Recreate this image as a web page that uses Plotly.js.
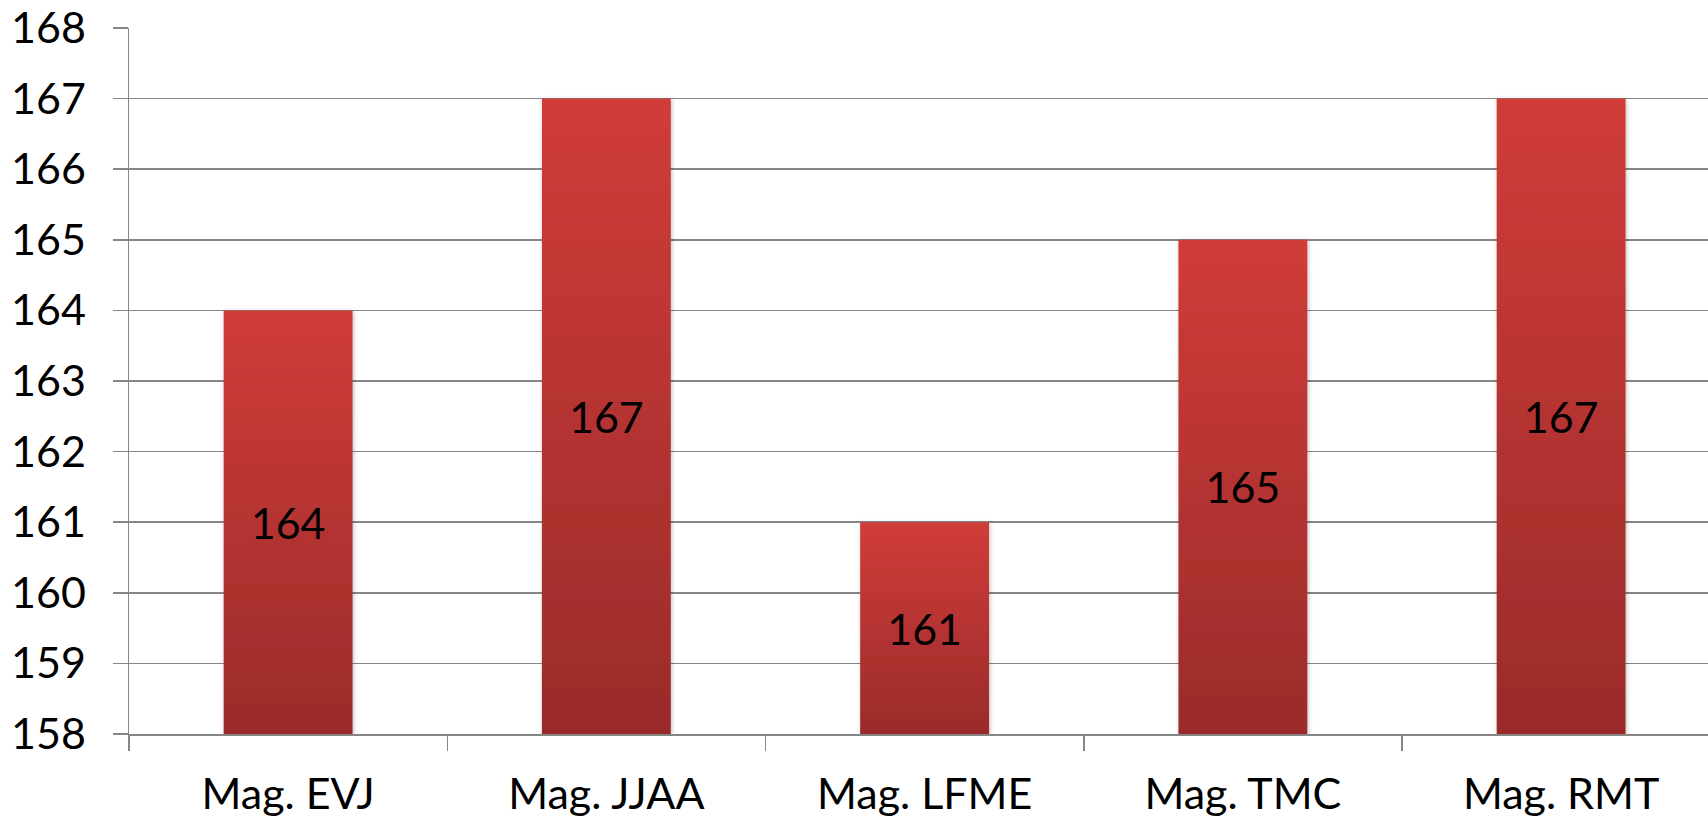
<!DOCTYPE html>
<html>
<head>
<meta charset="utf-8">
<script src="https://cdn.plot.ly/plotly-3.0.1.min.js"></script>
<style>
html,body{margin:0;padding:0;background:#fff;}
#chart{width:1708px;height:819px;}
</style>
</head>
<body>
<div id="chart"></div>
<script>
const categories = ["Mag. EVJ", "Mag. JJAA", "Mag. LFME", "Mag. TMC", "Mag. RMT"];
const values = [164, 167, 161, 165, 167];
const axisBase = 158;
const yTicks = [158, 159, 160, 161, 162, 163, 164, 165, 166, 167, 168];

const trace = {
  type: "bar",
  x: categories,
  y: values.map(function (v) { return v - axisBase; }),
  base: axisBase,
  text: values.map(String),
  textposition: "inside",
  insidetextanchor: "middle",
  textangle: 0,
  constraintext: "none",
  textfont: {family: "Lato, sans-serif", size: 43, color: "#000"},
  insidetextfont: {family: "Lato, sans-serif", size: 43, color: "#000"},
  marker: {color: "#B93332", line: {width: 0}},
  hoverinfo: "none"
};

const layout = {
  width: 1708, height: 819,
  margin: {l: 129, r: 0, t: 28, b: 85},
  paper_bgcolor: "#fff", plot_bgcolor: "#fff",
  showlegend: false,
  bargap: 0.595,
  uniformtext: {mode: false},
  font: {family: "Lato, sans-serif", size: 43, color: "#000"},
  xaxis: {
    type: "category",
    range: [-0.5, 4.4615],
    tickson: "boundaries",
    ticks: "outside", ticklen: 15, tickwidth: 1.5, tickcolor: "#868686",
    showline: true, linecolor: "#868686", linewidth: 1.5,
    showgrid: false, zeroline: false,
    ticklabelstandoff: 22,
    tickfont: {family: "Lato, sans-serif", size: 43, color: "#000"}
  },
  yaxis: {
    range: [158, 168],
    tickvals: yTicks,
    ticktext: yTicks.map(String),
    ticks: "outside", ticklen: 15, tickwidth: 1.5, tickcolor: "#868686",
    showline: true, linecolor: "#868686", linewidth: 1.5,
    showgrid: true, gridcolor: "#868686", gridwidth: 1.5,
    zeroline: false,
    ticklabelstandoff: 18,
    tickfont: {family: "Lato, sans-serif", size: 43, color: "#000"}
  }
};

Plotly.newPlot("chart", [trace], layout, {staticPlot: true, displayModeBar: false}).then(function (gd) {
  const svg = gd.querySelector("svg.main-svg");
  const ns = "http://www.w3.org/2000/svg";
  let defs = svg.querySelector("defs");
  if (!defs) { defs = document.createElementNS(ns, "defs"); svg.insertBefore(defs, svg.firstChild); }
  const grad = document.createElementNS(ns, "linearGradient");
  grad.setAttribute("id", "barGrad");
  grad.setAttribute("x1", "0"); grad.setAttribute("y1", "0");
  grad.setAttribute("x2", "0"); grad.setAttribute("y2", "1");
  [["0%", "#D03C39"], ["100%", "#9A2B2A"]].forEach(function (s) {
    const st = document.createElementNS(ns, "stop");
    st.setAttribute("offset", s[0]); st.setAttribute("stop-color", s[1]);
    grad.appendChild(st);
  });
  defs.appendChild(grad);
  const filt = document.createElementNS(ns, "filter");
  filt.setAttribute("id", "barShadow");
  filt.setAttribute("x", "-10%"); filt.setAttribute("y", "-10%");
  filt.setAttribute("width", "120%"); filt.setAttribute("height", "120%");
  const ds = document.createElementNS(ns, "feDropShadow");
  ds.setAttribute("dx", "1"); ds.setAttribute("dy", "1");
  ds.setAttribute("stdDeviation", "2"); ds.setAttribute("flood-color", "#000");
  ds.setAttribute("flood-opacity", "0.25");
  filt.appendChild(ds);
  defs.appendChild(filt);
  gd.querySelectorAll(".bars .point path").forEach(function (p) {
    p.style.fill = "url(#barGrad)";
    p.setAttribute("filter", "url(#barShadow)");
  });
});
</script>
</body>
</html>
